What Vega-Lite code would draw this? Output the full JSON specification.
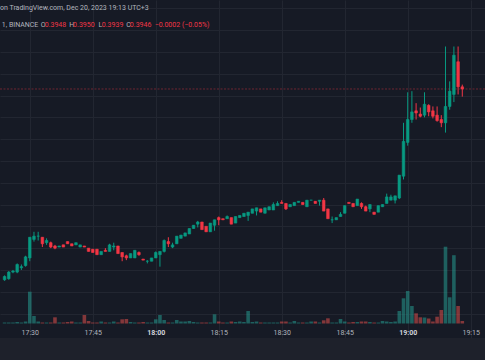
{
  "$schema": "https://vega.github.io/schema/vega-lite/v6.json",
  "width": 485,
  "height": 338,
  "autosize": {"type": "none"},
  "padding": {"left": 0, "top": 0, "right": 0, "bottom": 22},
  "background": "#1e212b",
  "config": {"view": {"fill": "#161a25", "stroke": null}},
  "title": {
    "text": "on TradingView.com, Dec 20, 2023 19:13 UTC+3",
    "anchor": "start",
    "frame": "group",
    "offset": -17,
    "baseline": "alphabetic",
    "fontSize": 7,
    "font": "Roboto",
    "fontWeight": "normal",
    "color": "#b2b5be"
  },
  "data": {
    "values": [
      {"t": "2023-12-20T17:24:00Z", "o": 0.3771, "h": 0.3775, "l": 0.3770, "c": 0.3774, "v": 20},
      {"t": "2023-12-20T17:25:00Z", "o": 0.3772, "h": 0.3779, "l": 0.3771, "c": 0.3778, "v": 20},
      {"t": "2023-12-20T17:26:00Z", "o": 0.3778, "h": 0.3780, "l": 0.3777, "c": 0.3779, "v": 20},
      {"t": "2023-12-20T17:27:00Z", "o": 0.3778, "h": 0.3786, "l": 0.3777, "c": 0.3785, "v": 30},
      {"t": "2023-12-20T17:28:00Z", "o": 0.3782, "h": 0.3785, "l": 0.3780, "c": 0.3783, "v": 20},
      {"t": "2023-12-20T17:29:00Z", "o": 0.3784, "h": 0.3793, "l": 0.3783, "c": 0.3792, "v": 40},
      {"t": "2023-12-20T17:30:00Z", "o": 0.3791, "h": 0.3810, "l": 0.3788, "c": 0.3810, "v": 636},
      {"t": "2023-12-20T17:31:00Z", "o": 0.3808, "h": 0.3815, "l": 0.3806, "c": 0.3811, "v": 150},
      {"t": "2023-12-20T17:32:00Z", "o": 0.3811, "h": 0.3815, "l": 0.3807, "c": 0.3811, "v": 40},
      {"t": "2023-12-20T17:33:00Z", "o": 0.3810, "h": 0.3810, "l": 0.3801, "c": 0.3804, "v": 20},
      {"t": "2023-12-20T17:34:00Z", "o": 0.3805, "h": 0.3809, "l": 0.3803, "c": 0.3807, "v": 20},
      {"t": "2023-12-20T17:35:00Z", "o": 0.3805, "h": 0.3806, "l": 0.3800, "c": 0.3801, "v": 20},
      {"t": "2023-12-20T17:36:00Z", "o": 0.3802, "h": 0.3803, "l": 0.3799, "c": 0.3800, "v": 124},
      {"t": "2023-12-20T17:37:00Z", "o": 0.3801, "h": 0.3802, "l": 0.3801, "c": 0.3802, "v": 20},
      {"t": "2023-12-20T17:38:00Z", "o": 0.3803, "h": 0.3803, "l": 0.3801, "c": 0.3801, "v": 20},
      {"t": "2023-12-20T17:39:00Z", "o": 0.3806, "h": 0.3806, "l": 0.3804, "c": 0.3804, "v": 30},
      {"t": "2023-12-20T17:40:00Z", "o": 0.3804, "h": 0.3804, "l": 0.3802, "c": 0.3802, "v": 40},
      {"t": "2023-12-20T17:41:00Z", "o": 0.3803, "h": 0.3805, "l": 0.3803, "c": 0.3805, "v": 20},
      {"t": "2023-12-20T17:42:00Z", "o": 0.3801, "h": 0.3803, "l": 0.3801, "c": 0.3803, "v": 20},
      {"t": "2023-12-20T17:43:00Z", "o": 0.3802, "h": 0.3802, "l": 0.3801, "c": 0.3801, "v": 170},
      {"t": "2023-12-20T17:44:00Z", "o": 0.3800, "h": 0.3800, "l": 0.3797, "c": 0.3797, "v": 50},
      {"t": "2023-12-20T17:45:00Z", "o": 0.3799, "h": 0.3799, "l": 0.3796, "c": 0.3796, "v": 20},
      {"t": "2023-12-20T17:46:00Z", "o": 0.3799, "h": 0.3799, "l": 0.3794, "c": 0.3794, "v": 20},
      {"t": "2023-12-20T17:47:00Z", "o": 0.3794, "h": 0.3797, "l": 0.3794, "c": 0.3797, "v": 40},
      {"t": "2023-12-20T17:48:00Z", "o": 0.3798, "h": 0.3800, "l": 0.3797, "c": 0.3797, "v": 20},
      {"t": "2023-12-20T17:49:00Z", "o": 0.3797, "h": 0.3804, "l": 0.3797, "c": 0.3803, "v": 20},
      {"t": "2023-12-20T17:50:00Z", "o": 0.3801, "h": 0.3805, "l": 0.3798, "c": 0.3802, "v": 40},
      {"t": "2023-12-20T17:51:00Z", "o": 0.3802, "h": 0.3802, "l": 0.3795, "c": 0.3795, "v": 20},
      {"t": "2023-12-20T17:52:00Z", "o": 0.3796, "h": 0.3796, "l": 0.3788, "c": 0.3792, "v": 84},
      {"t": "2023-12-20T17:53:00Z", "o": 0.3793, "h": 0.3794, "l": 0.3789, "c": 0.3791, "v": 90},
      {"t": "2023-12-20T17:54:00Z", "o": 0.3791, "h": 0.3795, "l": 0.3791, "c": 0.3795, "v": 30},
      {"t": "2023-12-20T17:55:00Z", "o": 0.3791, "h": 0.3798, "l": 0.3791, "c": 0.3798, "v": 20},
      {"t": "2023-12-20T17:56:00Z", "o": 0.3796, "h": 0.3797, "l": 0.3793, "c": 0.3794, "v": 20},
      {"t": "2023-12-20T17:57:00Z", "o": 0.3790, "h": 0.3790, "l": 0.3789, "c": 0.3789, "v": 30},
      {"t": "2023-12-20T17:58:00Z", "o": 0.3788, "h": 0.3789, "l": 0.3786, "c": 0.3788, "v": 20},
      {"t": "2023-12-20T17:59:00Z", "o": 0.3788, "h": 0.3791, "l": 0.3788, "c": 0.3791, "v": 20},
      {"t": "2023-12-20T18:00:00Z", "o": 0.3791, "h": 0.3797, "l": 0.3791, "c": 0.3796, "v": 84},
      {"t": "2023-12-20T18:01:00Z", "o": 0.3794, "h": 0.3797, "l": 0.3783, "c": 0.3797, "v": 170},
      {"t": "2023-12-20T18:02:00Z", "o": 0.3797, "h": 0.3808, "l": 0.3796, "c": 0.3807, "v": 70},
      {"t": "2023-12-20T18:03:00Z", "o": 0.3806, "h": 0.3810, "l": 0.3801, "c": 0.3804, "v": 20},
      {"t": "2023-12-20T18:04:00Z", "o": 0.3801, "h": 0.3805, "l": 0.3800, "c": 0.3803, "v": 20},
      {"t": "2023-12-20T18:05:00Z", "o": 0.3804, "h": 0.3811, "l": 0.3804, "c": 0.3811, "v": 70},
      {"t": "2023-12-20T18:06:00Z", "o": 0.3809, "h": 0.3812, "l": 0.3809, "c": 0.3812, "v": 40},
      {"t": "2023-12-20T18:07:00Z", "o": 0.3811, "h": 0.3814, "l": 0.3811, "c": 0.3814, "v": 40},
      {"t": "2023-12-20T18:08:00Z", "o": 0.3813, "h": 0.3818, "l": 0.3813, "c": 0.3818, "v": 50},
      {"t": "2023-12-20T18:09:00Z", "o": 0.3818, "h": 0.3821, "l": 0.3818, "c": 0.3821, "v": 30},
      {"t": "2023-12-20T18:10:00Z", "o": 0.3822, "h": 0.3825, "l": 0.3819, "c": 0.3824, "v": 20},
      {"t": "2023-12-20T18:11:00Z", "o": 0.3824, "h": 0.3824, "l": 0.3817, "c": 0.3817, "v": 20},
      {"t": "2023-12-20T18:12:00Z", "o": 0.3820, "h": 0.3820, "l": 0.3815, "c": 0.3815, "v": 20},
      {"t": "2023-12-20T18:13:00Z", "o": 0.3815, "h": 0.3823, "l": 0.3815, "c": 0.3823, "v": 20},
      {"t": "2023-12-20T18:14:00Z", "o": 0.3821, "h": 0.3826, "l": 0.3816, "c": 0.3826, "v": 184},
      {"t": "2023-12-20T18:15:00Z", "o": 0.3828, "h": 0.3829, "l": 0.3821, "c": 0.3826, "v": 40},
      {"t": "2023-12-20T18:16:00Z", "o": 0.3827, "h": 0.3827, "l": 0.3826, "c": 0.3826, "v": 20},
      {"t": "2023-12-20T18:17:00Z", "o": 0.3827, "h": 0.3830, "l": 0.3827, "c": 0.3829, "v": 20},
      {"t": "2023-12-20T18:18:00Z", "o": 0.3828, "h": 0.3828, "l": 0.3822, "c": 0.3822, "v": 40},
      {"t": "2023-12-20T18:19:00Z", "o": 0.3823, "h": 0.3829, "l": 0.3823, "c": 0.3829, "v": 30},
      {"t": "2023-12-20T18:20:00Z", "o": 0.3828, "h": 0.3830, "l": 0.3828, "c": 0.3830, "v": 40},
      {"t": "2023-12-20T18:21:00Z", "o": 0.3829, "h": 0.3832, "l": 0.3829, "c": 0.3832, "v": 30},
      {"t": "2023-12-20T18:22:00Z", "o": 0.3830, "h": 0.3833, "l": 0.3825, "c": 0.3833, "v": 250},
      {"t": "2023-12-20T18:23:00Z", "o": 0.3832, "h": 0.3836, "l": 0.3832, "c": 0.3836, "v": 30},
      {"t": "2023-12-20T18:24:00Z", "o": 0.3834, "h": 0.3837, "l": 0.3830, "c": 0.3837, "v": 40},
      {"t": "2023-12-20T18:25:00Z", "o": 0.3836, "h": 0.3836, "l": 0.3833, "c": 0.3833, "v": 20},
      {"t": "2023-12-20T18:26:00Z", "o": 0.3832, "h": 0.3837, "l": 0.3832, "c": 0.3837, "v": 20},
      {"t": "2023-12-20T18:27:00Z", "o": 0.3835, "h": 0.3838, "l": 0.3835, "c": 0.3838, "v": 20},
      {"t": "2023-12-20T18:28:00Z", "o": 0.3835, "h": 0.3842, "l": 0.3835, "c": 0.3840, "v": 20},
      {"t": "2023-12-20T18:29:00Z", "o": 0.3839, "h": 0.3843, "l": 0.3839, "c": 0.3841, "v": 20},
      {"t": "2023-12-20T18:30:00Z", "o": 0.3842, "h": 0.3844, "l": 0.3841, "c": 0.3841, "v": 40},
      {"t": "2023-12-20T18:31:00Z", "o": 0.3841, "h": 0.3841, "l": 0.3835, "c": 0.3836, "v": 40},
      {"t": "2023-12-20T18:32:00Z", "o": 0.3838, "h": 0.3840, "l": 0.3838, "c": 0.3840, "v": 20},
      {"t": "2023-12-20T18:33:00Z", "o": 0.3839, "h": 0.3842, "l": 0.3839, "c": 0.3842, "v": 50},
      {"t": "2023-12-20T18:34:00Z", "o": 0.3842, "h": 0.3843, "l": 0.3842, "c": 0.3843, "v": 20},
      {"t": "2023-12-20T18:35:00Z", "o": 0.3842, "h": 0.3842, "l": 0.3840, "c": 0.3840, "v": 20},
      {"t": "2023-12-20T18:36:00Z", "o": 0.3838, "h": 0.3844, "l": 0.3838, "c": 0.3844, "v": 20},
      {"t": "2023-12-20T18:37:00Z", "o": 0.3844, "h": 0.3844, "l": 0.3844, "c": 0.3844, "v": 40},
      {"t": "2023-12-20T18:38:00Z", "o": 0.3843, "h": 0.3843, "l": 0.3841, "c": 0.3841, "v": 40},
      {"t": "2023-12-20T18:39:00Z", "o": 0.3843, "h": 0.3844, "l": 0.3839, "c": 0.3844, "v": 20},
      {"t": "2023-12-20T18:40:00Z", "o": 0.3844, "h": 0.3846, "l": 0.3834, "c": 0.3834, "v": 64},
      {"t": "2023-12-20T18:41:00Z", "o": 0.3836, "h": 0.3836, "l": 0.3827, "c": 0.3827, "v": 104},
      {"t": "2023-12-20T18:42:00Z", "o": 0.3826, "h": 0.3829, "l": 0.3823, "c": 0.3826, "v": 20},
      {"t": "2023-12-20T18:43:00Z", "o": 0.3826, "h": 0.3828, "l": 0.3826, "c": 0.3828, "v": 20},
      {"t": "2023-12-20T18:44:00Z", "o": 0.3829, "h": 0.3833, "l": 0.3829, "c": 0.3831, "v": 90},
      {"t": "2023-12-20T18:45:00Z", "o": 0.3832, "h": 0.3839, "l": 0.3832, "c": 0.3839, "v": 40},
      {"t": "2023-12-20T18:46:00Z", "o": 0.3842, "h": 0.3842, "l": 0.3841, "c": 0.3841, "v": 20},
      {"t": "2023-12-20T18:47:00Z", "o": 0.3841, "h": 0.3841, "l": 0.3838, "c": 0.3838, "v": 30},
      {"t": "2023-12-20T18:48:00Z", "o": 0.3839, "h": 0.3845, "l": 0.3839, "c": 0.3845, "v": 30},
      {"t": "2023-12-20T18:49:00Z", "o": 0.3841, "h": 0.3842, "l": 0.3836, "c": 0.3838, "v": 40},
      {"t": "2023-12-20T18:50:00Z", "o": 0.3838, "h": 0.3839, "l": 0.3834, "c": 0.3834, "v": 40},
      {"t": "2023-12-20T18:51:00Z", "o": 0.3836, "h": 0.3840, "l": 0.3833, "c": 0.3840, "v": 30},
      {"t": "2023-12-20T18:52:00Z", "o": 0.3833, "h": 0.3833, "l": 0.3831, "c": 0.3831, "v": 20},
      {"t": "2023-12-20T18:53:00Z", "o": 0.3833, "h": 0.3839, "l": 0.3833, "c": 0.3839, "v": 20},
      {"t": "2023-12-20T18:54:00Z", "o": 0.3838, "h": 0.3840, "l": 0.3838, "c": 0.3840, "v": 50},
      {"t": "2023-12-20T18:55:00Z", "o": 0.3841, "h": 0.3850, "l": 0.3841, "c": 0.3847, "v": 40},
      {"t": "2023-12-20T18:56:00Z", "o": 0.3844, "h": 0.3849, "l": 0.3844, "c": 0.3847, "v": 30},
      {"t": "2023-12-20T18:57:00Z", "o": 0.3844, "h": 0.3848, "l": 0.3841, "c": 0.3848, "v": 40},
      {"t": "2023-12-20T18:58:00Z", "o": 0.3846, "h": 0.3867, "l": 0.3845, "c": 0.3867, "v": 250},
      {"t": "2023-12-20T18:59:00Z", "o": 0.3866, "h": 0.3915, "l": 0.3863, "c": 0.3898, "v": 504},
      {"t": "2023-12-20T19:00:00Z", "o": 0.3897, "h": 0.3943, "l": 0.3894, "c": 0.3918, "v": 650},
      {"t": "2023-12-20T19:01:00Z", "o": 0.3918, "h": 0.3944, "l": 0.3915, "c": 0.3925, "v": 350},
      {"t": "2023-12-20T19:02:00Z", "o": 0.3926, "h": 0.3933, "l": 0.3918, "c": 0.3924, "v": 204},
      {"t": "2023-12-20T19:03:00Z", "o": 0.3923, "h": 0.3929, "l": 0.3920, "c": 0.3921, "v": 124},
      {"t": "2023-12-20T19:04:00Z", "o": 0.3922, "h": 0.3943, "l": 0.3920, "c": 0.3932, "v": 120},
      {"t": "2023-12-20T19:05:00Z", "o": 0.3931, "h": 0.3932, "l": 0.3921, "c": 0.3925, "v": 100},
      {"t": "2023-12-20T19:06:00Z", "o": 0.3926, "h": 0.3930, "l": 0.3919, "c": 0.3921, "v": 40},
      {"t": "2023-12-20T19:07:00Z", "o": 0.3922, "h": 0.3930, "l": 0.3916, "c": 0.3917, "v": 136},
      {"t": "2023-12-20T19:08:00Z", "o": 0.3918, "h": 0.3922, "l": 0.3911, "c": 0.3915, "v": 270},
      {"t": "2023-12-20T19:09:00Z", "o": 0.3915, "h": 0.3985, "l": 0.3906, "c": 0.3930, "v": 1536},
      {"t": "2023-12-20T19:10:00Z", "o": 0.3930, "h": 0.3953, "l": 0.3927, "c": 0.3944, "v": 524},
      {"t": "2023-12-20T19:11:00Z", "o": 0.3941, "h": 0.3985, "l": 0.3934, "c": 0.3977, "v": 1366},
      {"t": "2023-12-20T19:12:00Z", "o": 0.3971, "h": 0.3985, "l": 0.3941, "c": 0.3948, "v": 350},
      {"t": "2023-12-20T19:13:00Z", "o": 0.3948, "h": 0.3950, "l": 0.3939, "c": 0.3946, "v": 50}
    ]
  },
  "layer": [
    {
      "mark": {"type": "bar", "width": 3.6, "opacity": 0.5},
      "encoding": {
        "x": {"field": "t", "type": "temporal", "scale": {"type": "utc", "domain": [{"year": 2023, "month": 12, "date": 20, "hours": 17, "minutes": 24, "seconds": 6, "utc": true}, {"year": 2023, "month": 12, "date": 20, "hours": 19, "minutes": 17, "seconds": 13, "utc": true}]}, "axis": null},
        "y": {"field": "v", "type": "quantitative", "scale": {"domain": [-290, 6470], "nice": false, "zero": false}, "axis": null},
        "y2": {"datum": 0},
        "fill": {"condition": {"test": "datum.c >= datum.o", "value": "#26a69a"}, "value": "#ef5350"}
      }
    },
    {
      "data": {"values": [{"last": 0.3946}]},
      "mark": {"type": "rule", "color": "#f23645", "opacity": 0.4, "strokeDash": [2, 1.5], "strokeWidth": 1},
      "encoding": {
        "y": {"field": "last", "type": "quantitative", "scale": {"domain": [0.371756, 0.402765], "nice": false, "zero": false}, "axis": null}
      }
    },
    {
      "mark": {"type": "rule", "strokeWidth": 1},
      "encoding": {
        "x": {
          "field": "t", "type": "temporal",
          "scale": {"type": "utc", "domain": [{"year": 2023, "month": 12, "date": 20, "hours": 17, "minutes": 24, "seconds": 6, "utc": true}, {"year": 2023, "month": 12, "date": 20, "hours": 19, "minutes": 17, "seconds": 13, "utc": true}]},
          "axis": {
            "orient": "bottom",
            "offset": -14,
            "values": [
              {"year": 2023, "month": 12, "date": 20, "hours": 17, "minutes": 30, "utc": true},
              {"year": 2023, "month": 12, "date": 20, "hours": 17, "minutes": 45, "utc": true},
              {"year": 2023, "month": 12, "date": 20, "hours": 18, "minutes": 0, "utc": true},
              {"year": 2023, "month": 12, "date": 20, "hours": 18, "minutes": 15, "utc": true},
              {"year": 2023, "month": 12, "date": 20, "hours": 18, "minutes": 30, "utc": true},
              {"year": 2023, "month": 12, "date": 20, "hours": 18, "minutes": 45, "utc": true},
              {"year": 2023, "month": 12, "date": 20, "hours": 19, "minutes": 0, "utc": true},
              {"year": 2023, "month": 12, "date": 20, "hours": 19, "minutes": 15, "utc": true}
            ],
            "format": "%H:%M",
            "grid": true,
            "gridColor": "#222631",
            "domain": false,
            "ticks": false,
            "tickSize": 0,
            "labelPadding": 10.5,
            "labelBaseline": "alphabetic",
            "labelFont": "Roboto",
            "labelFontSize": 7,
            "labelColor": {"condition": {"test": "utcminutes(datum.value) == 0", "value": "#d1d4dc"}, "value": "#b2b5be"},
            "labelFontWeight": {"condition": {"test": "utcminutes(datum.value) == 0", "value": "bold"}, "value": "normal"},
            "labelOverlap": false,
            "labelFlush": false,
            "labelBound": false,
            "title": null
          }
        },
        "y": {
          "field": "l", "type": "quantitative",
          "scale": {"domain": [0.371756, 0.402765], "nice": false, "zero": false},
          "axis": {
            "orient": "left",
            "values": [0.374, 0.376, 0.378, 0.38, 0.382, 0.384, 0.386, 0.388, 0.39, 0.392, 0.394, 0.396, 0.398, 0.4, 0.402],
            "grid": true,
            "gridColor": "#222631",
            "labels": false,
            "ticks": false,
            "domain": false,
            "title": null
          }
        },
        "y2": {"field": "h"},
        "color": {"condition": {"test": "datum.c >= datum.o", "value": "#089981"}, "value": "#f23645"}
      }
    },
    {
      "mark": {"type": "bar", "width": 2.6, "strokeWidth": 0.6},
      "encoding": {
        "x": {
          "field": "t", "type": "temporal",
          "scale": {"type": "utc", "domain": [{"year": 2023, "month": 12, "date": 20, "hours": 17, "minutes": 24, "seconds": 6, "utc": true}, {"year": 2023, "month": 12, "date": 20, "hours": 19, "minutes": 17, "seconds": 13, "utc": true}]},
          "axis": {
            "orient": "top",
            "offset": -26.7,
            "values": [
              {"year": 2023, "month": 12, "date": 20, "hours": 17, "minutes": 31, "seconds": 55, "utc": true},
              {"year": 2023, "month": 12, "date": 20, "hours": 17, "minutes": 32, "seconds": 30, "utc": true},
              {"year": 2023, "month": 12, "date": 20, "hours": 17, "minutes": 33, "seconds": 26, "utc": true},
              {"year": 2023, "month": 12, "date": 20, "hours": 17, "minutes": 39, "seconds": 16, "utc": true},
              {"year": 2023, "month": 12, "date": 20, "hours": 17, "minutes": 40, "seconds": 12, "utc": true},
              {"year": 2023, "month": 12, "date": 20, "hours": 17, "minutes": 46, "seconds": 15, "utc": true},
              {"year": 2023, "month": 12, "date": 20, "hours": 17, "minutes": 47, "seconds": 2, "utc": true},
              {"year": 2023, "month": 12, "date": 20, "hours": 17, "minutes": 52, "seconds": 52, "utc": true},
              {"year": 2023, "month": 12, "date": 20, "hours": 17, "minutes": 53, "seconds": 43, "utc": true},
              {"year": 2023, "month": 12, "date": 20, "hours": 17, "minutes": 59, "seconds": 37, "utc": true}
            ],
            "labelExpr": "['1, BINANCE','O','0.3948','H','0.3950','L','0.3939','C','0.3946','−0.0002 (−0.05%)'][indexof([1915,1950,2006,2356,2412,2775,2822,3172,3223,3577], utcminutes(datum.value)*60+utcseconds(datum.value))]",
            "labelColor": {"condition": {"test": "indexof([2006,2412,2822,3223,3577], utcminutes(datum.value)*60+utcseconds(datum.value)) >= 0", "value": "#f23645"}, "value": "#b2b5be"},
            "labelAlign": {"condition": {"test": "utcminutes(datum.value)*60+utcseconds(datum.value) == 1915", "value": "right"}, "value": "left"},
            "labelBaseline": "alphabetic",
            "labelPadding": 0,
            "tickSize": 0,
            "ticks": false,
            "domain": false,
            "grid": false,
            "labelFont": "Roboto",
            "labelFontSize": 7,
            "labelOverlap": false,
            "labelFlush": false,
            "labelBound": false,
            "title": null
          }
        },
        "y": {"field": "o", "type": "quantitative", "scale": {"domain": [0.371756, 0.402765], "nice": false, "zero": false}, "axis": null},
        "y2": {"field": "c"},
        "fill": {"condition": {"test": "datum.c >= datum.o", "value": "#089981"}, "value": "#f23645"},
        "stroke": {"condition": {"test": "datum.c >= datum.o", "value": "#089981"}, "value": "#f23645"}
      }
    }
  ],
  "resolve": {"scale": {"y": "independent"}, "axis": {"x": "independent"}}
}
